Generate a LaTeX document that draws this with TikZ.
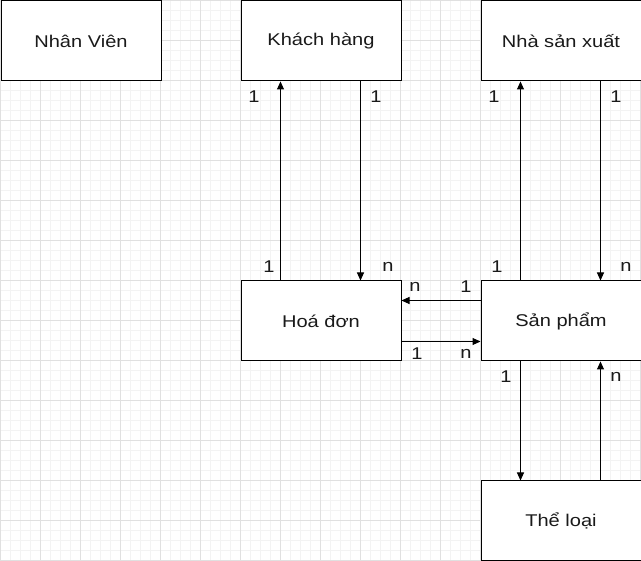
\documentclass[tikz,border=0pt]{standalone}
\usepackage{fontspec}
\setmainfont{Liberation Sans}[FakeStretch=1.18]
\usetikzlibrary{arrows.meta}
\definecolor{gridminor}{HTML}{F3F3F3}
\definecolor{gridmajor}{HTML}{E0E0E0}
\definecolor{txt}{HTML}{1A1A1A}
\tikzset{
  entity/.style={draw=black, fill=white, line width=1pt, minimum width=160pt, minimum height=80pt, inner sep=0pt, font=\fontsize{17}{20}\selectfont, text=txt, anchor=north west},
  rel/.style={draw=black, line width=1pt, -{Triangle[length=8pt,width=7pt]}},
  card/.style={font=\fontsize{17}{20}\selectfont, text=txt, inner sep=0pt}
}
\begin{document}
\begin{tikzpicture}[x=1pt,y=-1pt]
\useasboundingbox (0,0) rectangle (641,561);
\fill[white] (0,0) rectangle (641,561);
% grid
\foreach \i in {0,10,...,640} {
  \draw[gridminor, line width=1pt] (\i+0.5,0) -- (\i+0.5,561);
}
\foreach \j in {0,10,...,560} {
  \draw[gridminor, line width=1pt] (0,\j+0.5) -- (641,\j+0.5);
}
\foreach \i in {0,40,...,640} {
  \draw[gridmajor, line width=1pt] (\i+0.5,0) -- (\i+0.5,561);
}
\foreach \j in {0,40,...,560} {
  \draw[gridmajor, line width=1pt] (0,\j+0.5) -- (641,\j+0.5);
}
% entities
\node[entity] (nv) at (0.5,0.5) {Nhân Viên};
\node[entity] (kh) at (240.5,0.5) {Khách hàng};
\node[entity] (nsx) at (480.5,0.5) {Nhà sản xuất};
\node[entity] (hd) at (240.5,280.5) {Hoá đơn};
\node[entity] (sp) at (480.5,280.5) {Sản phẩm};
\node[entity] (tl) at (480.5,480.5) {Thể loại};
% connectors
\draw[rel] ([xshift=40pt]hd.north west) -- ([xshift=40pt]kh.south west);
\draw[rel] ([xshift=120pt]kh.south west) -- ([xshift=120pt]hd.north west);
\draw[rel] ([xshift=40pt]sp.north west) -- ([xshift=40pt]nsx.south west);
\draw[rel] ([xshift=120pt]nsx.south west) -- ([xshift=120pt]sp.north west);
\draw[rel] ([yshift=-20pt]sp.north west) -- ([yshift=-20pt]hd.north east);
\draw[rel] ([yshift=20pt]hd.south east) -- ([yshift=20pt]sp.south west);
\draw[rel] ([xshift=40pt]sp.south west) -- ([xshift=40pt]tl.north west);
\draw[rel] ([xshift=120pt]tl.north west) -- ([xshift=120pt]sp.south west);
% cardinalities
\node[card] (c1) at (254,97) {1};
\node[card] (c2) at (376,97) {1};
\node[card] (c3) at (269,267) {1};
\node[card] (c4) at (388,267) {n};
\node[card] (c5) at (415,287) {n};
\node[card] (c6) at (466,287) {1};
\node[card] (c7) at (417,354) {1};
\node[card] (c8) at (466,354) {n};
\node[card] (c9) at (494,97) {1};
\node[card] (c10) at (616,97) {1};
\node[card] (c11) at (497,267) {1};
\node[card] (c12) at (626,267) {n};
\node[card] (c13) at (506,377) {1};
\node[card] (c14) at (616,377) {n};
\end{tikzpicture}
\end{document}
